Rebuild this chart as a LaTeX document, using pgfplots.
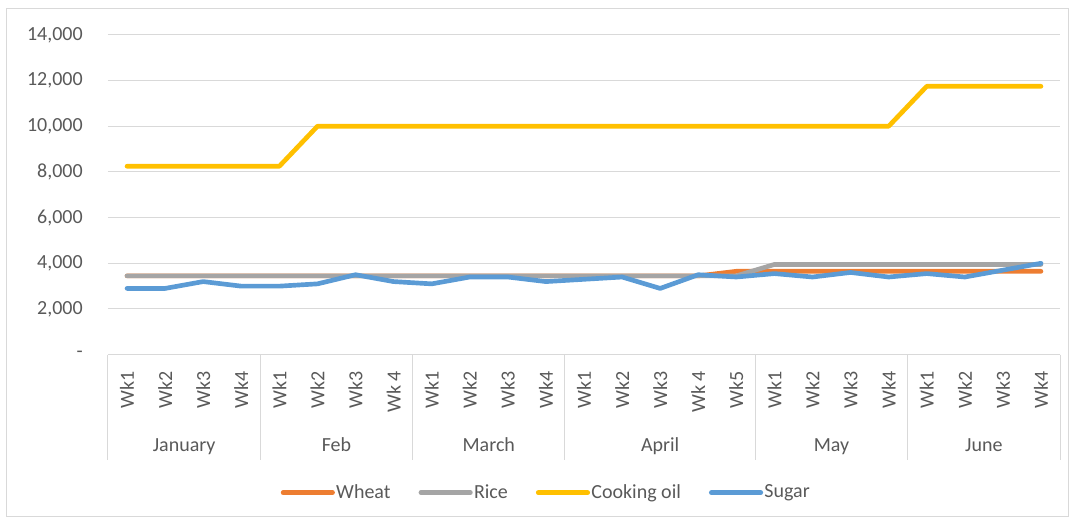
\documentclass[border=0pt]{standalone}
\usepackage{pgfplots}
\pgfplotsset{compat=1.18}
\usepackage{fontspec}
\setmainfont{Carlito}
\definecolor{cWheat}{HTML}{ED7D31}
\definecolor{cRice}{HTML}{A5A5A5}
\definecolor{cOil}{HTML}{FFC000}
\definecolor{cSugar}{HTML}{5B9BD5}
\definecolor{cGrid}{HTML}{D9D9D9}
\definecolor{cText}{HTML}{595959}
\begin{document}
\fontsize{15pt}{18pt}\selectfont
\begin{tikzpicture}
\path[use as bounding box] (-81pt,-126.2pt) rectangle (724.5pt,266pt);
\draw[cGrid, line width=0.75pt] (-76.3pt,-121.7pt) rectangle (720pt,259.25pt);
\begin{axis}[
  scale only axis,
  width=714pt, height=239.8pt,
  at={(0,0)}, anchor=south west,
  xmin=-0.5, xmax=24.5,
  ymin=0, ymax=14000,
  clip=false,
  axis line style={draw=none},
  major tick length=0pt,
  scaled y ticks=false,
  ymajorgrids,
  grid style={cGrid, line width=0.75pt},
  ytick={0,2000,4000,6000,8000,10000,12000,14000},
  yticklabels={{-\hspace{5pt}},{2,000},{4,000},{6,000},{8,000},{10,000},{12,000},{14,000}},
  yticklabel style={anchor=east, inner sep=0pt, xshift=-18.75pt, text=cText, font=\fontsize{15pt}{18pt}\selectfont},
  xtick={0,...,24},
  xticklabels={Wk1,Wk2,Wk3,Wk4,Wk1,Wk2,Wk3,Wk 4,Wk1,Wk2,Wk3,Wk4,Wk1,Wk2,Wk3,Wk 4,Wk5,Wk1,Wk2,Wk3,Wk4,Wk1,Wk2,Wk3,Wk4},
  xticklabel style={rotate=90, anchor=east, inner sep=0pt, text=cText, font=\fontsize{15pt}{18pt}\selectfont},
  xticklabel shift=12.2pt,
  legend columns=4,
  legend style={at={(0.4600,-0.4316)}, anchor=center, draw=none, fill=none,
    font=\fontsize{15pt}{18pt}\selectfont, text=cText,
    nodes={inner sep=1pt},
    /tikz/every even column/.append style={column sep=20pt}},
  legend image code/.code={\draw[#1, line width=3.6pt, line cap=round] (0pt,0pt) -- (37pt,0pt);},
  every axis plot/.append style={line width=3.5pt, line cap=round, line join=round, no marks},
]
\addplot[cWheat] coordinates {(0,3450)(1,3450)(2,3450)(3,3450)(4,3450)(5,3450)(6,3450)(7,3450)(8,3450)(9,3450)(10,3450)(11,3450)(12,3450)(13,3450)(14,3450)(15,3450)(16,3650)(17,3650)(18,3650)(19,3650)(20,3650)(21,3650)(22,3650)(23,3650)(24,3650)};
\addlegendentry{Wheat}
\addplot[cRice] coordinates {(0,3450)(1,3450)(2,3450)(3,3450)(4,3450)(5,3450)(6,3450)(7,3450)(8,3450)(9,3450)(10,3450)(11,3450)(12,3450)(13,3450)(14,3450)(15,3450)(16,3450)(17,3950)(18,3950)(19,3950)(20,3950)(21,3950)(22,3950)(23,3950)(24,3950)};
\addlegendentry{Rice}
\addplot[cOil] coordinates {(0,8250)(1,8250)(2,8250)(3,8250)(4,8250)(5,10000)(6,10000)(7,10000)(8,10000)(9,10000)(10,10000)(11,10000)(12,10000)(13,10000)(14,10000)(15,10000)(16,10000)(17,10000)(18,10000)(19,10000)(20,10000)(21,11750)(22,11750)(23,11750)(24,11750)};
\addlegendentry{Cooking oil}
\addplot[cSugar] coordinates {(0,2900)(1,2900)(2,3200)(3,3000)(4,3000)(5,3100)(6,3500)(7,3200)(8,3100)(9,3400)(10,3400)(11,3200)(12,3300)(13,3400)(14,2900)(15,3500)(16,3400)(17,3550)(18,3400)(19,3600)(20,3400)(21,3550)(22,3400)(23,3700)(24,4000)};
\addlegendentry{Sugar}
% category box
\draw[cGrid, line width=0.75pt] (axis cs:-0.5,0) -- ([yshift=-79pt]axis cs:-0.5,0);
\draw[cGrid, line width=0.75pt] (axis cs:3.5,0) -- ([yshift=-79pt]axis cs:3.5,0);
\draw[cGrid, line width=0.75pt] (axis cs:7.5,0) -- ([yshift=-79pt]axis cs:7.5,0);
\draw[cGrid, line width=0.75pt] (axis cs:11.5,0) -- ([yshift=-79pt]axis cs:11.5,0);
\draw[cGrid, line width=0.75pt] (axis cs:16.5,0) -- ([yshift=-79pt]axis cs:16.5,0);
\draw[cGrid, line width=0.75pt] (axis cs:20.5,0) -- ([yshift=-79pt]axis cs:20.5,0);
\draw[cGrid, line width=0.75pt] (axis cs:24.5,0) -- ([yshift=-79pt]axis cs:24.5,0);
\node[anchor=base, text=cText, font=\fontsize{15pt}{18pt}\selectfont] at ([yshift=-73pt]axis cs:1.5,0) {January};
\node[anchor=base, text=cText, font=\fontsize{15pt}{18pt}\selectfont] at ([yshift=-73pt]axis cs:5.5,0) {Feb};
\node[anchor=base, text=cText, font=\fontsize{15pt}{18pt}\selectfont] at ([yshift=-73pt]axis cs:9.5,0) {March};
\node[anchor=base, text=cText, font=\fontsize{15pt}{18pt}\selectfont] at ([yshift=-73pt]axis cs:14,0) {April};
\node[anchor=base, text=cText, font=\fontsize{15pt}{18pt}\selectfont] at ([yshift=-73pt]axis cs:18.5,0) {May};
\node[anchor=base, text=cText, font=\fontsize{15pt}{18pt}\selectfont] at ([yshift=-73pt]axis cs:22.5,0) {June};
\end{axis}
\end{tikzpicture}
\end{document}
